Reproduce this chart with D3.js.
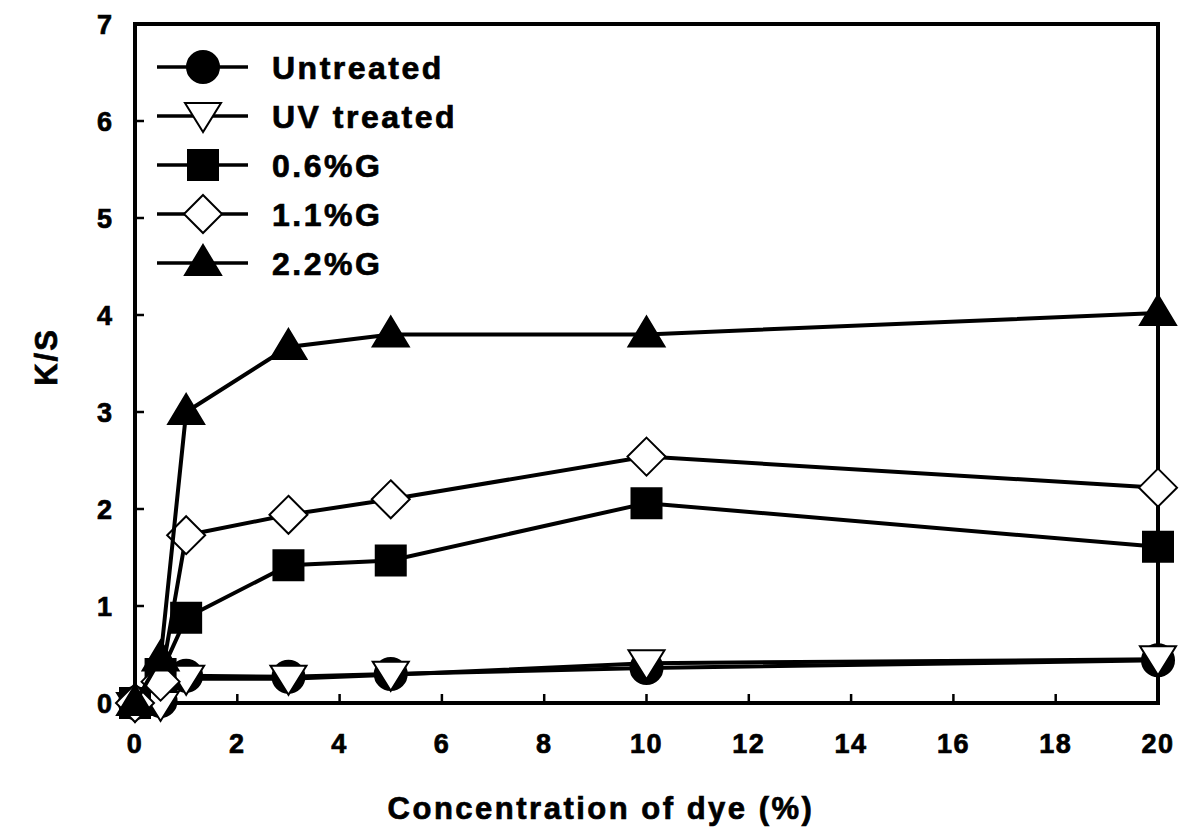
<!DOCTYPE html>
<html>
<head>
<meta charset="utf-8">
<script src="https://cdn.jsdelivr.net/npm/d3@7"></script>
<style>
  body { margin: 0; background: #fff; }
  text { font-family: "Liberation Sans", Arial, sans-serif; font-weight: bold; fill: #000; stroke: #000; stroke-width: 0.7px; }
</style>
</head>
<body>
<svg id="chart" width="1195" height="836"></svg>
<script>
// dye concentration (%)
const conc = [0, 0.5, 1, 3, 5, 10, 20];

// K/S values
const untreated = [0.0, 0.02, 0.28, 0.27, 0.30, 0.36, 0.44];
const uvTreated = [-0.03, -0.02, 0.25, 0.25, 0.29, 0.41, 0.45];
const g06 = [0.0, 0.30, 0.88, 1.42, 1.47, 2.06, 1.61];
const g11 = [0.0, 0.22, 1.73, 1.94, 2.10, 2.54, 2.22];
const g22 = [0.0, 0.46, 3.0, 3.67, 3.80, 3.80, 4.02];

const seriesNames = ['Untreated', 'UV treated', '0.6%G', '1.1%G', '2.2%G'];
const seriesValues = [untreated, uvTreated, g06, g11, g22];
const seriesMarkers = ['circle', 'triDown', 'square', 'diamond', 'triUp'];

const xTicks = [0, 2, 4, 6, 8, 10, 12, 14, 16, 18, 20];
const yTicks = [0, 1, 2, 3, 4, 5, 6, 7];

const svg = d3.select('#chart');
const x = d3.scaleLinear().domain([0, 20]).range([135, 1158]);
const y = d3.scaleLinear().domain([0, 7]).range([703, 24]);

// marker shapes
function markerPath(kind) {
    switch (kind) {
        case 'circle': return d3.symbol(d3.symbolCircle, Math.PI * 16 * 16)();
        case 'square': return 'M-15,-15H15V15H-15Z';
        case 'diamond': return 'M0,-19L19,0L0,19L-19,0Z';
        case 'triUp': return 'M0,-18L18,12L-18,12Z';
        case 'triDown': return 'M0,16L-18,-13L18,-13Z';
    }
}
function markerFill(kind) {
    return (kind === 'triDown' || kind === 'diamond') ? '#fff' : '#000';
}

// frame
svg.append('rect')
    .attr('x', x(0)).attr('y', y(7))
    .attr('width', x(20) - x(0)).attr('height', y(0) - y(7))
    .attr('fill', 'none').attr('stroke', '#000').attr('stroke-width', 4);

// ticks pointing inward
svg.append('g').selectAll('line').data(xTicks).join('line')
    .attr('x1', d => x(d)).attr('x2', d => x(d))
    .attr('y1', y(0)).attr('y2', y(0) - 9)
    .attr('stroke', '#000').attr('stroke-width', 2.5);
svg.append('g').selectAll('line').data(yTicks).join('line')
    .attr('x1', x(0)).attr('x2', x(0) + 9)
    .attr('y1', d => y(d)).attr('y2', d => y(d))
    .attr('stroke', '#000').attr('stroke-width', 2.5);

// tick labels
svg.append('g').selectAll('text').data(xTicks).join('text')
    .attr('x', d => x(d)).attr('y', 753)
    .attr('text-anchor', 'middle')
    .style('font-size', '27px').style('letter-spacing', '1.5px')
    .text(d => d);
svg.append('g').selectAll('text').data(yTicks).join('text')
    .attr('x', 112).attr('y', d => y(d) + 10)
    .attr('text-anchor', 'end')
    .style('font-size', '27px')
    .text(d => d);

// axis titles
svg.append('text')
    .attr('x', 601).attr('y', 819)
    .attr('text-anchor', 'middle')
    .style('font-size', '31px').style('letter-spacing', '2.5px')
    .text('Concentration of dye (%)');
svg.append('text')
    .attr('transform', 'translate(57,357) rotate(-90)')
    .attr('text-anchor', 'middle')
    .style('font-size', '31px').style('letter-spacing', '2px')
    .text('K/S');

// series
const line = d3.line().x((d, i) => x(conc[i])).y(d => y(d));
seriesValues.forEach((vals, s) => {
    const g = svg.append('g');
    g.append('path')
        .attr('d', line(vals))
        .attr('fill', 'none').attr('stroke', '#000').attr('stroke-width', 4);
    g.selectAll('path.mk').data(vals).join('path')
        .attr('class', 'mk')
        .attr('transform', (d, i) => `translate(${x(conc[i])},${y(d)})`)
        .attr('d', markerPath(seriesMarkers[s]))
        .attr('fill', markerFill(seriesMarkers[s]))
        .attr('stroke', '#000').attr('stroke-width', 2);
});

// legend
const legend = svg.append('g').selectAll('g').data(seriesNames).join('g')
    .attr('transform', (d, i) => `translate(0,${67 + i * 49})`);
legend.append('line')
    .attr('x1', 157).attr('x2', 248)
    .attr('stroke', '#000').attr('stroke-width', 3.5);
legend.append('path')
    .attr('transform', 'translate(203,0)')
    .attr('d', (d, i) => markerPath(seriesMarkers[i]))
    .attr('fill', (d, i) => markerFill(seriesMarkers[i]))
    .attr('stroke', '#000').attr('stroke-width', 2);
legend.append('text')
    .attr('x', 272).attr('y', 12)
    .style('font-size', '32px').style('letter-spacing', '2.5px')
    .text(d => d);
</script>
</body>
</html>
